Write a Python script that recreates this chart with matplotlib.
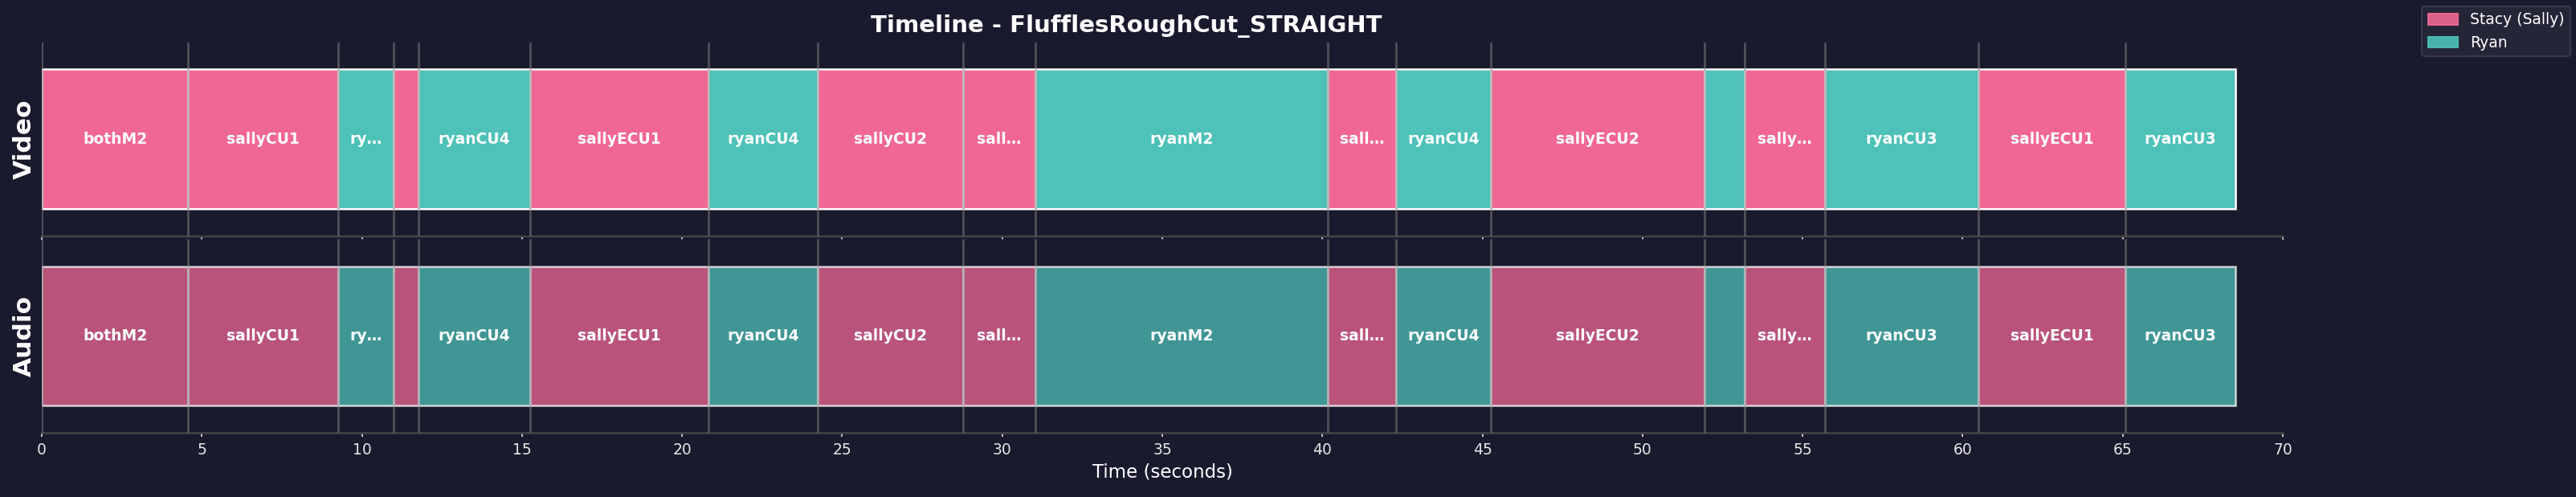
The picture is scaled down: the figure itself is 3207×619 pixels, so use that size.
import numpy as np
import matplotlib
matplotlib.use('Agg')
import matplotlib.pyplot as plt
from matplotlib.patches import Patch

# clip boundaries in seconds (start of each clip, last value = end of timeline)
cut_times = [0.0, 4.57, 9.26, 11.0, 11.76, 15.25, 20.83, 24.24, 28.78, 31.04,
             40.17, 42.31, 45.25, 51.94, 53.20, 55.70, 60.50, 65.08, 68.52]
# who is on screen in each clip
speakers = ['sally', 'sally', 'ryan', 'sally', 'ryan', 'sally', 'ryan', 'sally',
            'sally', 'ryan', 'sally', 'ryan', 'sally', 'ryan', 'sally', 'ryan',
            'sally', 'ryan']
# text shown on each clip (already shortened where the clip is narrow)
clip_labels = ['bothM2', 'sallyCU1', 'ry\u2026', '', 'ryanCU4', 'sallyECU1',
               'ryanCU4', 'sallyCU2', 'sall\u2026', 'ryanM2', 'sall\u2026',
               'ryanCU4', 'sallyECU2', '', 'sally\u2026', 'ryanCU3',
               'sallyECU1', 'ryanCU3']
tracks = ['Video', 'Audio']
track_alpha = [1.0, 0.75]
legend_names = ['Stacy (Sally)', 'Ryan']

bg = '#1a1a2e'
colors = {'sally': '#f06794', 'ryan': '#4ec1b8'}

starts = np.array(cut_times[:-1])
durations = np.diff(cut_times)

W, H = 3207, 619
fig = plt.figure(figsize=(W / 150, H / 150), dpi=150, facecolor=bg)

left = 52 / W
width = 2790 / W
ax_video = fig.add_axes([left, 1 - 294 / H, width, 241.5 / H], facecolor=bg)
ax_audio = fig.add_axes([left, 1 - 539 / H, width, 241 / H], facecolor=bg,
                        sharex=ax_video)
axes = [ax_video, ax_audio]

for ax, track, alpha in zip(axes, tracks, track_alpha):
    bar_colors = [colors[s] for s in speakers]
    ax.barh(0, durations, left=starts, height=0.72, color=bar_colors,
            edgecolor='white', linewidth=1.2, alpha=alpha, zorder=2)
    for x0, d, lab in zip(starts, durations, clip_labels):
        if lab:
            ax.text(x0 + d / 2, 0, lab, ha='center', va='center',
                    color='white', fontsize=9, fontweight='bold', zorder=4)
    for x0 in starts:
        ax.axvline(x0, color='gray', alpha=0.55, linewidth=1.3, zorder=3)
    ax.set_ylim(-0.5, 0.5)
    ax.set_xlim(0, 70)
    ax.set_yticks([])
    for side in ['top', 'left', 'right']:
        ax.spines[side].set_visible(False)
    ax.spines['bottom'].set_color('#444444')
    ax.spines['bottom'].set_linewidth(1.2)
    ax.tick_params(axis='x', colors='#e6e6e6', length=2.5, width=0.8,
                   labelsize=9)
    ax.set_ylabel(track, fontsize=15, fontweight='bold', color='white')
    ax.yaxis.set_label_coords(-0.0026, 0.5)

ax_audio.set_xticks(np.arange(0, 71, 5))
ax_video.tick_params(axis='x', labelbottom=False)
ax_audio.set_xlabel('Time (seconds)', fontsize=11, color='white', labelpad=3)

fig.text(1402 / W, 1 - 40 / H, 'Timeline - FlufflesRoughCut_STRAIGHT',
         ha='center', va='baseline', fontsize=14, fontweight='bold',
         color='white')

handles = [Patch(facecolor=colors['sally'], edgecolor=colors['sally'], alpha=0.9),
           Patch(facecolor=colors['ryan'], edgecolor=colors['ryan'], alpha=0.9)]
leg = fig.legend(handles, legend_names, loc='upper right',
                 bbox_to_anchor=(3200 / W, 1 - 8 / H), borderaxespad=0,
                 fontsize=9, facecolor='#252538', edgecolor='#3a3a4a',
                 framealpha=1, labelcolor='white')

fig.savefig('out.png', dpi=150, facecolor=bg)
